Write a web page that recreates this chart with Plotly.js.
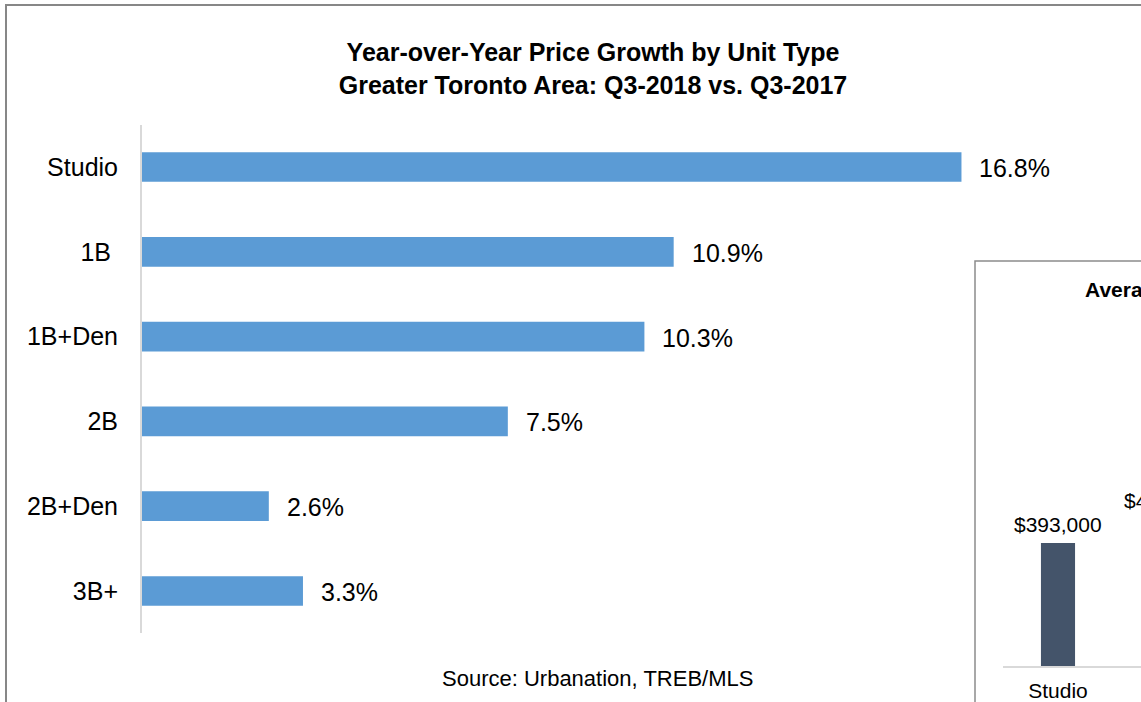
<!DOCTYPE html>
<html>
<head>
<meta charset="utf-8">
<script src="https://cdn.plot.ly/plotly-3.0.1.min.js"></script>
<style>
  html, body { margin: 0; padding: 0; overflow: hidden; background: #fff; }
  #chart { width: 1700px; height: 702px; }
</style>
</head>
<body>
<div id="chart"></div>
<script>
// Main chart data
const categories = ['Studio', '1B', '1B+Den', '2B', '2B+Den', '3B+'];
const tickLabels = ['Studio', '1B\u00a0', '1B+Den', '2B', '2B+Den', '3B+'];
const growthPct = [16.8, 10.9, 10.3, 7.5, 2.6, 3.3];

// Inset chart (partially visible at the right edge)
const insetCategories = ['Studio', '1B'];
const insetPrices = [393000, 470000];

const W = 1700, H = 702;
const px = v => v / W;
const py = v => 1 - v / H;
const FONT = 'Liberation Sans, Arial, Helvetica, sans-serif';

const mainBars = {
  type: 'bar',
  orientation: 'h',
  y: categories,
  x: growthPct,
  width: 0.35,
  marker: { color: '#5B9BD5' },
  xaxis: 'x', yaxis: 'y',
  hoverinfo: 'skip'
};

const insetBars = {
  type: 'bar',
  x: insetCategories,
  y: insetPrices,
  width: 0.31,
  marker: { color: '#44546A' },
  xaxis: 'x2', yaxis: 'y2',
  cliponaxis: false,
  hoverinfo: 'skip'
};

const annotations = [];
categories.forEach((c, i) => {
  annotations.push({
    x: growthPct[i], y: c, xref: 'x', yref: 'y',
    text: growthPct[i].toFixed(1) + '%',
    showarrow: false, xanchor: 'left', yanchor: 'middle',
    xshift: 16, yshift: -1,
    font: { family: FONT, size: 25, color: '#000' }
  });
});
insetCategories.forEach((c, i) => {
  annotations.push({
    x: c, y: insetPrices[i], xref: 'x2', yref: 'y2',
    text: '$' + insetPrices[i].toLocaleString('en-US'),
    showarrow: false, xanchor: 'center', yanchor: 'bottom',
    yshift: 5,
    font: { family: FONT, size: 21, color: '#000' }
  });
});
annotations.push({
  x: px(597), y: py(678), xref: 'paper', yref: 'paper',
  text: 'Source: Urbanation, TREB/MLS',
  showarrow: false, xanchor: 'center', yanchor: 'middle',
  font: { family: FONT, size: 22, color: '#000' }
});
annotations.push({
  x: px(1083), y: py(290), xref: 'paper', yref: 'paper',
  text: '<b>Average Price by Unit Type</b>',
  showarrow: false, xanchor: 'left', yanchor: 'middle',
  font: { family: FONT, size: 21, color: '#000' }
});

const layout = {
  width: W, height: H,
  margin: { l: 0, r: 0, t: 0, b: 0 },
  paper_bgcolor: '#ffffff',
  plot_bgcolor: 'rgba(0,0,0,0)',
  showlegend: false,
  title: {
    text: '<b>Year-over-Year Price Growth by Unit Type<br>Greater Toronto Area: Q3-2018 vs. Q3-2017</b>',
    x: px(593), xref: 'paper', xanchor: 'center',
    y: py(61), yref: 'container', yanchor: 'middle',
    font: { family: FONT, size: 25, color: '#000' }
  },
  xaxis: {
    domain: [px(142), px(1020)],
    range: [0, 18],
    showgrid: false, zeroline: false, showticklabels: false, showline: false,
    ticks: '', fixedrange: true
  },
  yaxis: {
    domain: [py(633.4), py(124.6)],
    type: 'category',
    range: [5.5, -0.5],
    tickvals: categories,
    ticktext: tickLabels,
    showgrid: false, zeroline: false,
    showline: true, linecolor: '#d9d9d9', linewidth: 2,
    ticks: '', ticklabelstandoff: 17,
    tickfont: { family: FONT, size: 25, color: '#000' },
    fixedrange: true
  },
  xaxis2: {
    domain: [px(1003), px(1663)],
    anchor: 'y2',
    type: 'category',
    range: [-0.5, 5.5],
    showgrid: false, zeroline: false,
    showline: true, linecolor: '#d9d9d9', linewidth: 2,
    ticks: '', ticklabelstandoff: 5,
    tickfont: { family: FONT, size: 21, color: '#000' },
    fixedrange: true
  },
  yaxis2: {
    domain: [py(666), py(353)],
    anchor: 'x2',
    range: [0, 1000000],
    visible: false, fixedrange: true
  },
  shapes: [
    {
      type: 'rect', xref: 'paper', yref: 'paper', layer: 'below',
      x0: px(6), x1: px(1180), y0: -0.2, y1: py(5),
      line: { color: '#878787', width: 2 }, fillcolor: 'rgba(0,0,0,0)'
    },
    {
      type: 'rect', xref: 'paper', yref: 'paper', layer: 'below',
      x0: px(975), x1: px(1690), y0: -0.2, y1: py(261),
      line: { color: '#8c8c8c', width: 1.5 }, fillcolor: '#ffffff'
    }
  ],
  annotations: annotations
};

Plotly.newPlot('chart', [mainBars, insetBars], layout, { displayModeBar: false, staticPlot: true });
</script>
</body>
</html>
